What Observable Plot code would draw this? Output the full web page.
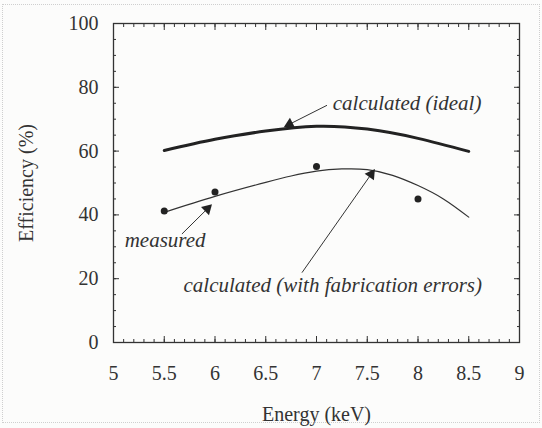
<!DOCTYPE html>
<html>
<head>
<meta charset="utf-8">
<script src="https://cdn.jsdelivr.net/npm/d3@7"></script>
<script src="https://cdn.jsdelivr.net/npm/@observablehq/plot@0.6"></script>
<style>
  html, body { margin: 0; padding: 0; background: #fcfcfb; }
  #wrap { position: relative; width: 542px; height: 428px; overflow: hidden; }
  #border { position: absolute; left: 2px; top: 4px; width: 538px; height: 419px; border: 1px dotted #cfcfcf; box-sizing: border-box; }
  #chart { position: absolute; left: 0; top: 0; }
  #chart svg text { font-family: "Liberation Serif", "DejaVu Serif", serif; }
</style>
</head>
<body>
<div id="wrap"><div id="border"></div><div id="chart"></div></div>
<script>
// Calculated (ideal) efficiency curve
const idealEnergy = [5.5, 6.0, 6.5, 7.0, 7.5, 8.0, 8.5];
const idealEff    = [60.2, 63.7, 66.3, 67.8, 66.9, 64.0, 59.9];

// Calculated (with fabrication errors)
const fabEnergy = [5.5, 6.0, 6.5, 6.75, 7.0, 7.25, 7.5, 7.75, 8.0, 8.25, 8.5];
const fabEff    = [40.8, 45.8, 50.2, 52.2, 53.7, 54.4, 54.2, 52.4, 49.2, 45.0, 39.3];

// Measured points
const measEnergy = [5.5, 6.0, 7.0, 8.0];
const measEff    = [41.2, 47.2, 55.2, 45.0];

// Axis ticks
const xMajor = [5, 5.5, 6, 6.5, 7, 7.5, 8, 8.5, 9];
const xMinor = d3.range(50, 91).map(d => d / 10);
const yMajor = [0, 20, 40, 60, 80, 100];
const yMinor = d3.range(0, 101, 5);

// Annotations (data units)
const noteText = ["calculated (ideal)", "measured", "calculated (with fabrication errors)"];
const noteX    = [7.16, 5.11, 5.69];
const noteY    = [74.9, 32.0, 17.9];
const arrowX1  = [7.10, 5.677, 6.859];
const arrowY1  = [74.3, 34.1, 22.0];
const arrowX2  = [6.695, 5.956, 7.564];
const arrowY2  = [67.8, 42.9, 53.9];

const ideal = idealEnergy.map((x, i) => ({x, y: idealEff[i]}));
const fab = fabEnergy.map((x, i) => ({x, y: fabEff[i]}));
const meas = measEnergy.map((x, i) => ({x, y: measEff[i]}));
const notes = noteText.map((t, i) => ({t, x: noteX[i], y: noteY[i]}));
const arrows = arrowX1.map((x1, i) => ({x1, y1: arrowY1[i], x2: arrowX2[i], y2: arrowY2[i]}));

const layout = {
  width: 542, height: 428,
  marginLeft: 113, marginRight: 23, marginTop: 23, marginBottom: 86,
  x: {domain: [5, 9]},
  y: {domain: [0, 100]}
};

// Use the plot's scales to orient filled arrowheads
const probe = Plot.plot({...layout, marks: [Plot.frame()]});
const sx = probe.scale("x"), sy = probe.scale("y");
const heads = arrows.map(a => {
  const px1 = sx.apply(a.x1), py1 = sy.apply(a.y1);
  const px2 = sx.apply(a.x2), py2 = sy.apply(a.y2);
  const dx = px2 - px1, dy = py2 - py1, len = Math.hypot(dx, dy);
  const back = 4.5;
  const cx = px2 - dx / len * back, cy = py2 - dy / len * back;
  return {x: sx.invert(cx), y: sy.invert(cy), rotate: Math.atan2(dx, -dy) * 180 / Math.PI};
});

const ink = "#333";
const serif = "'Liberation Serif', 'DejaVu Serif', serif";
const chart = Plot.plot({
  ...layout,
  style: {fontFamily: serif, fontSize: "18px", color: ink, background: "transparent"},
  marks: [
    Plot.frame({stroke: ink, strokeWidth: 1.3}),
    Plot.axisX(xMinor, {anchor: "bottom", tickSize: -3, text: null, label: null, stroke: ink}),
    Plot.axisX(xMinor, {anchor: "top", tickSize: -3, text: null, label: null, stroke: ink}),
    Plot.axisY(yMinor, {anchor: "left", tickSize: -3, text: null, label: null, stroke: ink}),
    Plot.axisY(yMinor, {anchor: "right", tickSize: -3, text: null, label: null, stroke: ink}),
    Plot.axisX(xMajor, {anchor: "bottom", tickSize: -6, text: null, label: null, stroke: ink}),
    Plot.axisX(xMajor, {anchor: "top", tickSize: -6, text: null, label: null, stroke: ink}),
    Plot.axisY(yMajor, {anchor: "left", tickSize: -6, text: null, label: null, stroke: ink}),
    Plot.axisY(yMajor, {anchor: "right", tickSize: -6, text: null, label: null, stroke: ink}),
    Plot.axisX(xMajor, {anchor: "bottom", tickSize: 0, tickPadding: 23, fontSize: 20, fontFamily: serif, fill: ink,
      label: "Energy (keV)", labelAnchor: "center", labelOffset: 78, labelArrow: "none", tickFormat: d => String(d)}),
    Plot.axisY(yMajor, {anchor: "left", tickSize: 0, tickPadding: 15, fontSize: 20, fontFamily: serif, fill: ink,
      label: "Efficiency (%)", labelAnchor: "center", labelOffset: 95, labelArrow: "none", tickFormat: d => String(d)}),
    Plot.line(ideal, {x: "x", y: "y", curve: "natural", stroke: "#222", strokeWidth: 3}),
    Plot.line(fab, {x: "x", y: "y", curve: "natural", stroke: "#333", strokeWidth: 1.2}),
    Plot.dot(meas, {x: "x", y: "y", r: 3.5, fill: "#222", stroke: "none"}),
    Plot.arrow(arrows, {x1: "x1", y1: "y1", x2: "x2", y2: "y2", stroke: "#333", strokeWidth: 1, headLength: 0}),
    Plot.dot(heads, {x: "x", y: "y", rotate: "rotate", symbol: "triangle", r: 4.2, fill: "#222", stroke: "none"}),
    Plot.text(notes, {x: "x", y: "y", text: "t", textAnchor: "start", fontStyle: "italic", fontFamily: serif, fontSize: 21, fill: "#333"})
  ]
});
document.getElementById("chart").appendChild(chart);
</script>
</body>
</html>
